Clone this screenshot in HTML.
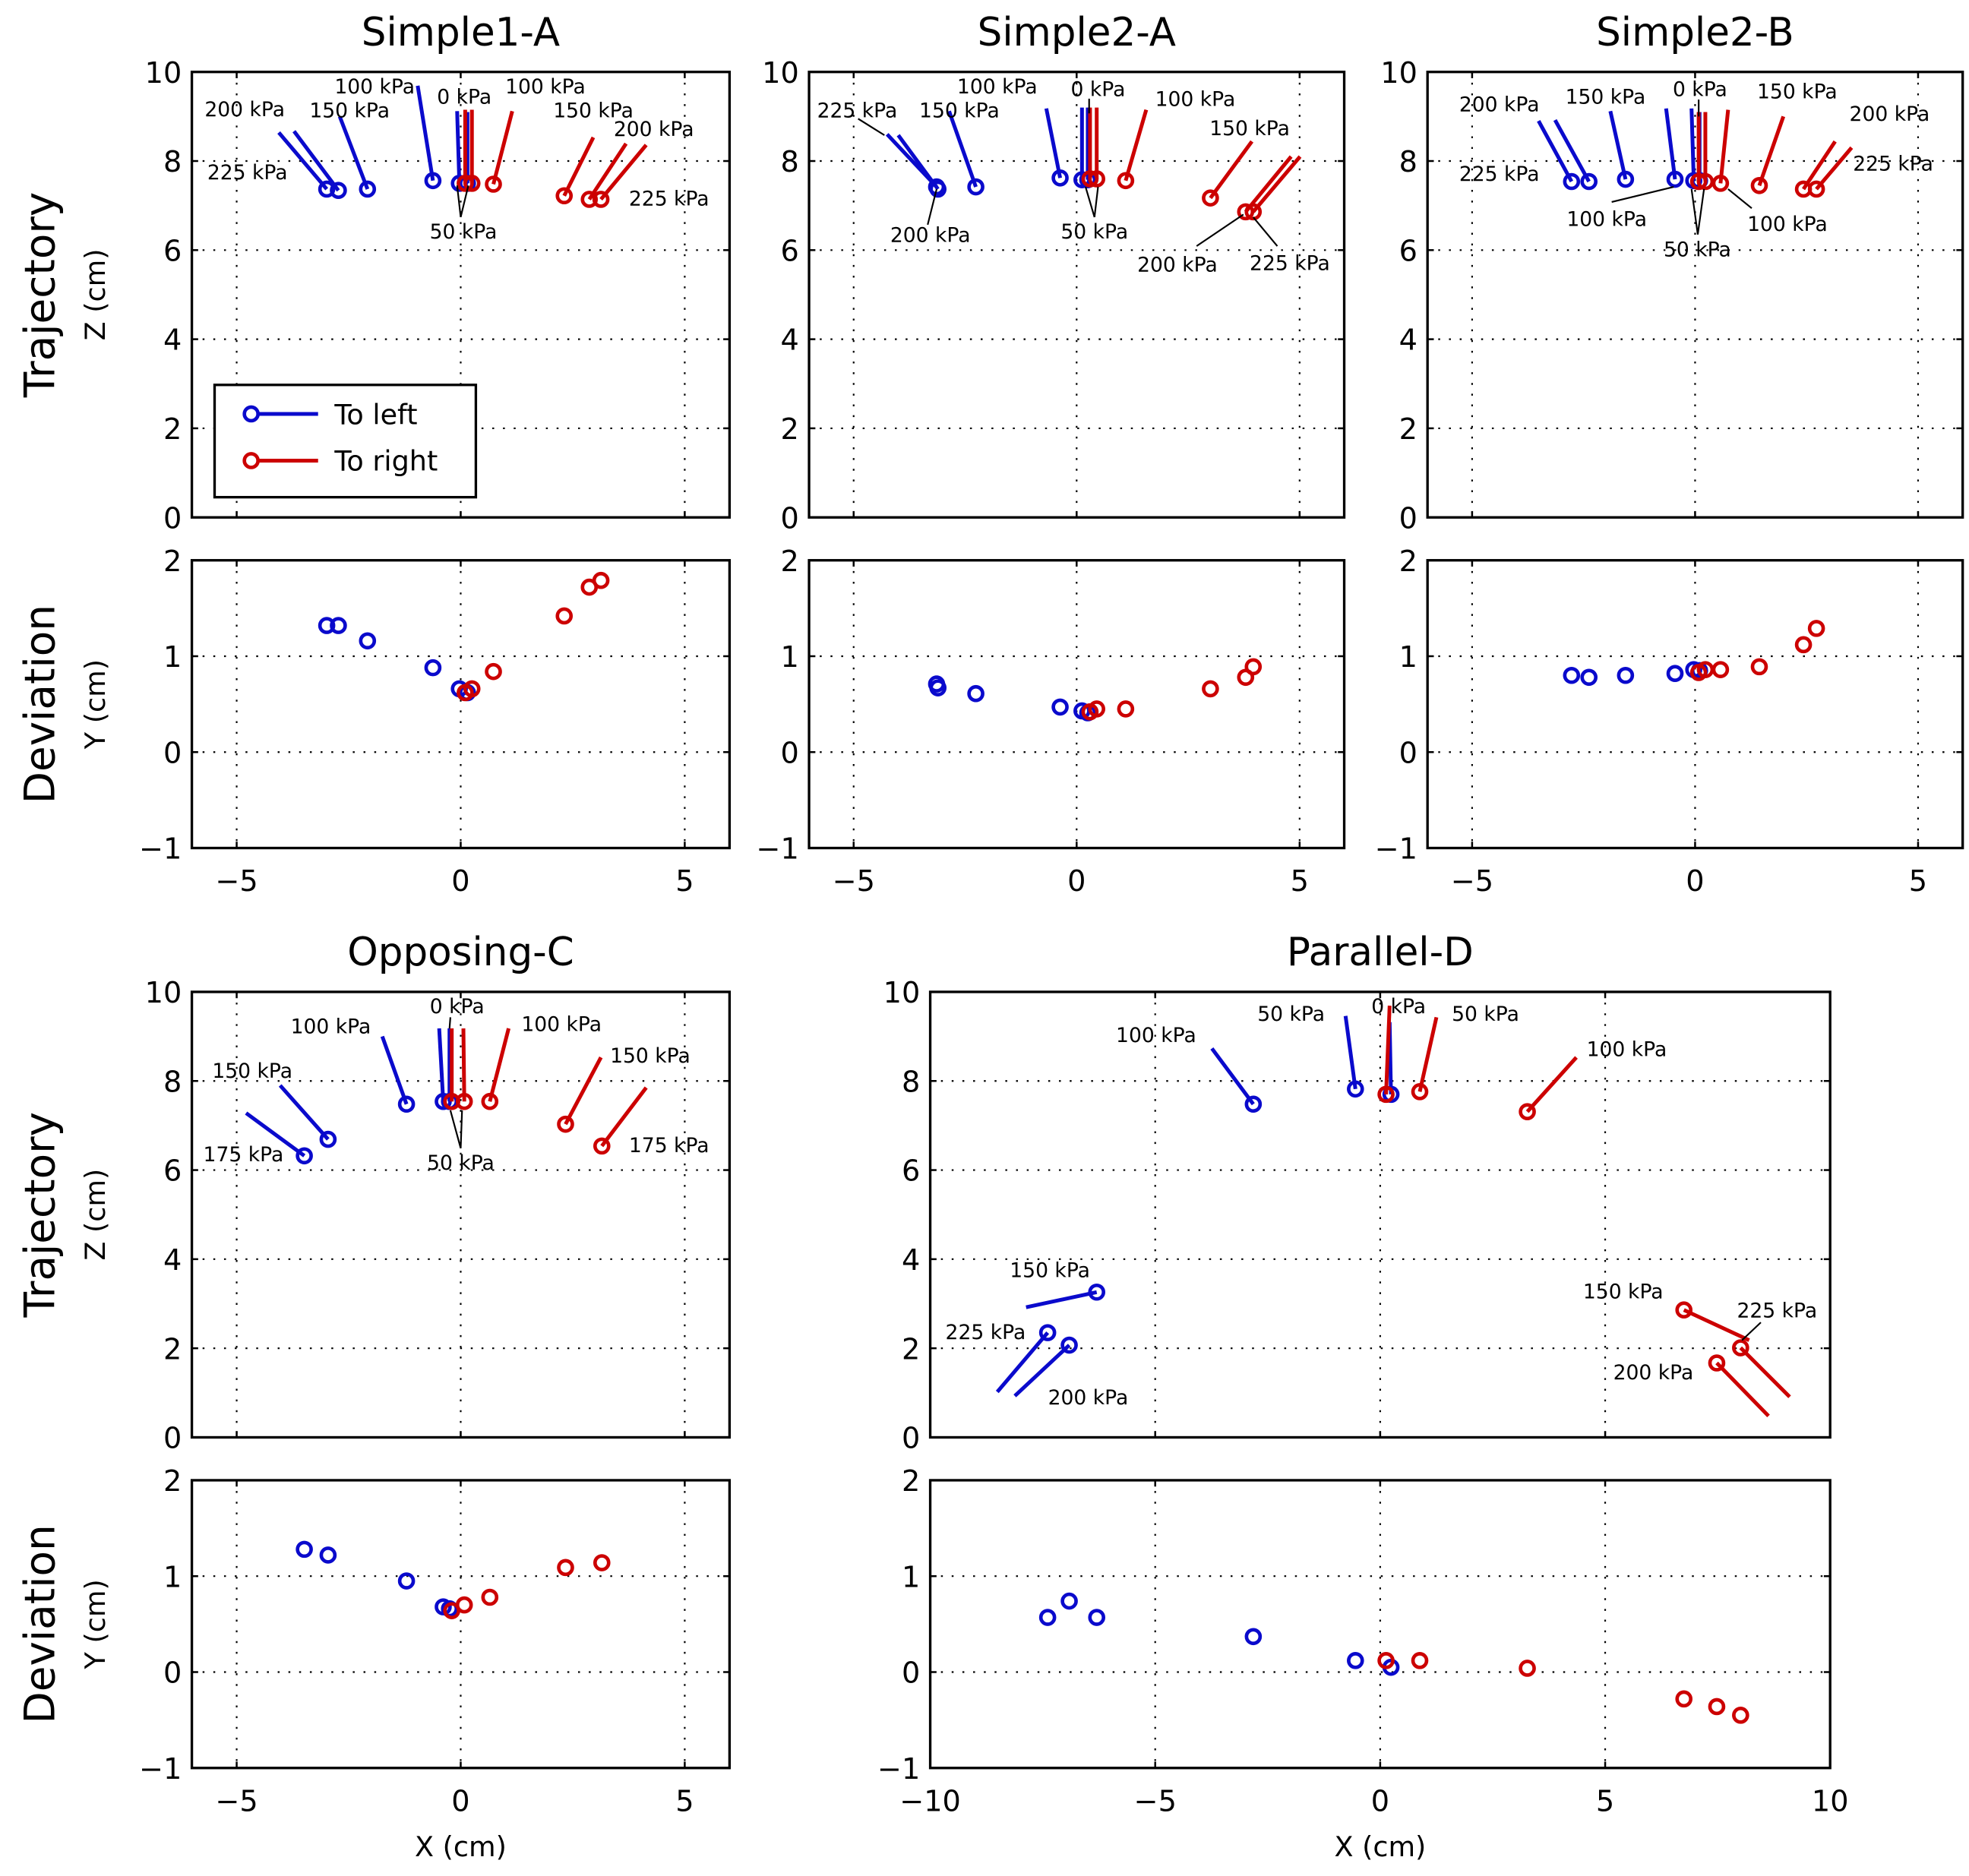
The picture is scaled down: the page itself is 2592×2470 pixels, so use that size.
<!DOCTYPE html>
<html><head><meta charset="utf-8"><title>Trajectory and deviation</title>
<style>
html,body{margin:0;padding:0;background:#fff;}
svg{display:block;font-family:"DejaVu Sans","Liberation Sans",sans-serif;}
</style></head>
<body>
<svg id="fig" xmlns="http://www.w3.org/2000/svg" width="2592" height="2470" viewBox="0 0 1560 1486.6"></svg>
<script>
// ===== data (x, z, y, line end x, line end z) =====
// Simple1-A
const s1aLeftLabels=["225","200","150","100","0","50"];
const s1aLeftX=[-2.99,-2.73,-2.08,-0.62,-0.03,0.15];
const s1aLeftZ=[7.37,7.34,7.37,7.56,7.5,7.5];
const s1aLeftY=[1.32,1.32,1.16,0.88,0.66,0.62];
const s1aLeftEndX=[-4.06,-3.72,-2.70,-0.96,-0.08,0.15];
const s1aLeftEndZ=[8.64,8.67,9.0,9.69,9.12,9.1];
const s1aRightLabels=["0","50","100","150","200","225"];
const s1aRightX=[0.1,0.25,0.73,2.31,2.87,3.13];
const s1aRightZ=[7.5,7.5,7.48,7.22,7.14,7.14];
const s1aRightY=[0.62,0.66,0.84,1.42,1.72,1.79];
const s1aRightEndX=[0.1,0.25,1.15,2.96,3.69,4.14];
const s1aRightEndZ=[9.15,9.15,9.12,8.53,8.39,8.36];
const s1aNoteText=["200 kPa","150 kPa","100 kPa","0 kPa","100 kPa","150 kPa","200 kPa","225 kPa","225 kPa","50 kPa"];
const s1aNoteX=[-4.82,-2.48,-1.92,0.08,1.89,2.96,4.31,-4.76,4.65,0.06];
const s1aNoteZ=[9.18,9.15,9.69,9.46,9.69,9.15,8.73,7.76,7.17,6.43];
const s1aLeadX1=[0.0,0.0];const s1aLeadZ1=[6.74,6.74];
const s1aLeadX2=[-0.08,0.17];const s1aLeadZ2=[7.45,7.45];

// Simple2-A
const s2aLeftX=[-3.14,-3.11,-2.26,-0.37,0.12,0.25];
const s2aLeftZ=[7.42,7.37,7.42,7.62,7.58,7.58];
const s2aLeftY=[0.71,0.67,0.61,0.47,0.43,0.41];
const s2aLeftEndX=[-4.25,-4.0,-2.86,-0.68,0.12,0.25];
const s2aLeftEndZ=[8.6,8.58,9.12,9.18,9.2,9.2];
const s2aRightX=[0.3,0.45,1.10,3.0,3.79,3.96];
const s2aRightZ=[7.6,7.6,7.56,7.17,6.86,6.86];
const s2aRightY=[0.42,0.45,0.45,0.66,0.78,0.89];
const s2aRightEndX=[0.3,0.45,1.56,3.93,4.81,5.01];
const s2aRightEndZ=[9.2,9.2,9.15,8.44,8.1,8.1];
const s2aNoteText=["225 kPa","150 kPa","100 kPa","0 kPa","100 kPa","150 kPa","200 kPa","50 kPa","200 kPa","225 kPa"];
const s2aNoteX=[-4.92,-2.63,-1.78,0.48,2.66,3.88,-3.28,0.40,2.26,4.78];
const s2aNoteZ=[9.15,9.15,9.69,9.63,9.41,8.75,6.35,6.43,5.69,5.72];
const s2aLeadX1=[-4.9,0.28,-3.34,0.40,0.40,2.69,4.5];
const s2aLeadZ1=[8.95,9.4,6.57,6.74,6.74,6.09,6.09];
const s2aLeadX2=[-4.31,0.28,-3.14,0.2,0.48,3.74,3.96];
const s2aLeadZ2=[8.58,9.07,7.37,7.42,7.42,6.8,6.74];

// Simple2-B
const s2bLeftX=[-2.77,-2.38,-1.56,-0.45,-0.03,0.1];
const s2bLeftZ=[7.54,7.54,7.59,7.59,7.56,7.56];
const s2bLeftY=[0.80,0.78,0.80,0.82,0.86,0.85];
const s2bLeftEndX=[-3.51,-3.14,-1.90,-0.65,-0.08,0.1];
const s2bLeftEndZ=[8.9,8.92,9.12,9.18,9.18,9.1];
const s2bRightX=[0.08,0.23,0.57,1.44,2.43,2.72];
const s2bRightZ=[7.54,7.54,7.5,7.45,7.37,7.37];
const s2bRightY=[0.83,0.86,0.86,0.89,1.12,1.29];
const s2bRightEndX=[0.08,0.23,0.74,1.98,3.14,3.51];
const s2bRightEndZ=[9.1,9.1,9.15,9.0,8.44,8.3];
const s2bNoteText=["200 kPa","150 kPa","0 kPa","150 kPa","200 kPa","225 kPa","225 kPa","100 kPa","100 kPa","50 kPa"];
const s2bNoteX=[-4.39,-2.01,0.11,2.29,4.36,-4.39,4.44,-1.98,2.07,0.05];
const s2bNoteZ=[9.29,9.46,9.63,9.58,9.07,7.73,7.96,6.71,6.6,6.03];
const s2bLeadX1=[0.08,-1.87,1.27,0.06,0.06];
const s2bLeadZ1=[9.38,7.08,6.94,6.35,6.35];
const s2bLeadX2=[0.08,-0.48,0.74,-0.08,0.2];
const s2bLeadZ2=[9.0,7.42,7.37,7.37,7.37];

// Opposing-C
const ocLeftX=[-3.49,-2.96,-1.21,-0.39,-0.25];
const ocLeftZ=[6.32,6.69,7.48,7.54,7.54];
const ocLeftY=[1.28,1.22,0.95,0.68,0.66];
const ocLeftEndX=[-4.79,-4.03,-1.75,-0.48,-0.25];
const ocLeftEndZ=[7.28,7.9,9.0,9.18,9.18];
const ocRightX=[-0.2,0.08,0.65,2.34,3.15];
const ocRightZ=[7.54,7.54,7.54,7.03,6.54];
const ocRightY=[0.64,0.70,0.78,1.09,1.14];
const ocRightEndX=[-0.2,0.06,1.07,3.13,4.14];
const ocRightEndZ=[9.18,9.18,9.18,8.53,7.85];
const ocNoteText=["100 kPa","0 kPa","100 kPa","150 kPa","150 kPa","175 kPa","175 kPa","50 kPa"];
const ocNoteX=[-2.9,-0.08,2.25,-4.65,4.23,-4.85,4.65,0.0];
const ocNoteZ=[9.24,9.69,9.29,8.24,8.58,6.37,6.57,6.18];
const ocLeadX1=[-0.23,0.0,0.0];
const ocLeadZ1=[9.43,6.49,6.49];
const ocLeadX2=[-0.25,-0.23,0.03];
const ocLeadZ2=[9.18,7.34,7.34];

// Parallel-D
const pdLeftX=[-2.82,-0.55,0.24,-6.30,-7.39,-6.91];
const pdLeftZ=[7.48,7.82,7.7,3.26,2.35,2.07];
const pdLeftY=[0.37,0.12,0.05,0.57,0.57,0.74];
const pdLeftEndX=[-3.74,-0.77,0.21,-7.87,-8.51,-8.12];
const pdLeftEndZ=[8.73,9.46,9.32,2.92,1.02,0.93];
const pdRightX=[0.13,0.88,3.27,6.75,7.48,8.01];
const pdRightZ=[7.7,7.76,7.31,2.86,1.67,2.01];
const pdRightY=[0.12,0.12,0.04,-0.28,-0.36,-0.45];
const pdRightEndX=[0.21,1.25,4.36,8.2,8.63,9.1];
const pdRightEndZ=[9.69,9.43,8.53,2.18,0.48,0.91];
const pdNoteText=["100 kPa","50 kPa","0 kPa","50 kPa","100 kPa","150 kPa","225 kPa","200 kPa","150 kPa","225 kPa","200 kPa"];
const pdNoteX=[-4.98,-1.98,0.41,2.34,5.48,-7.34,-8.77,-6.49,5.40,8.82,6.07];
const pdNoteZ=[9.04,9.52,9.69,9.52,8.73,3.77,2.38,0.91,3.29,2.86,1.47];
const pdLeadX1=[8.46];const pdLeadZ1=[2.58];
const pdLeadX2=[8.04];const pdLeadZ2=[2.18];

const smallTicks=[-5,0,5];
const wideTicks=[-10,-5,0,5,10];
const zTicks=[0,2,4,6,8,10];
const yTicks=[-1,0,1,2];

// ===== layout =====
const panels=[
 {id:'simple1-a',title:'Simple1-A',x0:152,x1:578,ty0:57,ty1:410,dy0:444,dy1:672,xmin:-6,xmax:6,xt:smallTicks,leftLabels:true,xlabel:false,
  L:[s1aLeftX,s1aLeftZ,s1aLeftY,s1aLeftEndX,s1aLeftEndZ],R:[s1aRightX,s1aRightZ,s1aRightY,s1aRightEndX,s1aRightEndZ],
  N:[s1aNoteText,s1aNoteX,s1aNoteZ],D:[s1aLeadX1,s1aLeadZ1,s1aLeadX2,s1aLeadZ2],legend:true},
 {id:'simple2-a',title:'Simple2-A',x0:641,x1:1065,ty0:57,ty1:410,dy0:444,dy1:672,xmin:-6,xmax:6,xt:smallTicks,leftLabels:false,xlabel:false,
  L:[s2aLeftX,s2aLeftZ,s2aLeftY,s2aLeftEndX,s2aLeftEndZ],R:[s2aRightX,s2aRightZ,s2aRightY,s2aRightEndX,s2aRightEndZ],
  N:[s2aNoteText,s2aNoteX,s2aNoteZ],D:[s2aLeadX1,s2aLeadZ1,s2aLeadX2,s2aLeadZ2]},
 {id:'simple2-b',title:'Simple2-B',x0:1131,x1:1555,ty0:57,ty1:410,dy0:444,dy1:672,xmin:-6,xmax:6,xt:smallTicks,leftLabels:false,xlabel:false,
  L:[s2bLeftX,s2bLeftZ,s2bLeftY,s2bLeftEndX,s2bLeftEndZ],R:[s2bRightX,s2bRightZ,s2bRightY,s2bRightEndX,s2bRightEndZ],
  N:[s2bNoteText,s2bNoteX,s2bNoteZ],D:[s2bLeadX1,s2bLeadZ1,s2bLeadX2,s2bLeadZ2]},
 {id:'opposing-c',title:'Opposing-C',x0:152,x1:578,ty0:786,ty1:1139,dy0:1173,dy1:1401,xmin:-6,xmax:6,xt:smallTicks,leftLabels:true,xlabel:true,
  L:[ocLeftX,ocLeftZ,ocLeftY,ocLeftEndX,ocLeftEndZ],R:[ocRightX,ocRightZ,ocRightY,ocRightEndX,ocRightEndZ],
  N:[ocNoteText,ocNoteX,ocNoteZ],D:[ocLeadX1,ocLeadZ1,ocLeadX2,ocLeadZ2]},
 {id:'parallel-d',title:'Parallel-D',x0:737,x1:1450,ty0:786,ty1:1139,dy0:1173,dy1:1401,xmin:-10,xmax:10,xt:wideTicks,leftLabels:false,xlabel:true,
  L:[pdLeftX,pdLeftZ,pdLeftY,pdLeftEndX,pdLeftEndZ],R:[pdRightX,pdRightZ,pdRightY,pdRightEndX,pdRightEndZ],
  N:[pdNoteText,pdNoteX,pdNoteZ],D:[pdLeadX1,pdLeadZ1,pdLeadX2,pdLeadZ2]}
];
const BLUE='#0a0acc',RED='#cc0000';
const NS='http://www.w3.org/2000/svg';
const svg=document.getElementById('fig');
function mk(tag,attrs,parent){const e=document.createElementNS(NS,tag);for(const k in attrs)e.setAttribute(k,attrs[k]);(parent||svg).appendChild(e);return e;}
function txt(s,x,y,size,anchor,parent,extra){const t=mk('text',Object.assign({x:x,y:y,'font-size':size,'text-anchor':anchor||'middle',fill:'#000'},extra||{}),parent);t.textContent=s;return t;}
function fmt(v){return v<0?'\u2212'+Math.abs(v):String(v);}

panels.forEach(p=>{
 const sx=x=>p.x0+(x-p.xmin)/(p.xmax-p.xmin)*(p.x1-p.x0);
 const sz=z=>p.ty1-z/10*(p.ty1-p.ty0);
 const sy=y=>p.dy1-(y+1)/3*(p.dy1-p.dy0);
 const g=mk('g',{});
 
 
 const title=txt(p.title,(p.x0+p.x1)/2,p.ty0-21,31,'middle',g);
 
 
 [['trajectory',p.ty0,p.ty1,zTicks,sz],['deviation',p.dy0,p.dy1,yTicks,sy]].forEach(([kind,t0,t1,vt,f])=>{
  const ax=mk('g',{},g);
  
  
  p.xt.forEach(v=>{const X=sx(v);
   const gl=mk('line',{x1:X,x2:X,y1:t0,y2:t1,stroke:'#000','stroke-width':1.3,'stroke-dasharray':'1.5 7'},ax);
   
   mk('line',{x1:X,x2:X,y1:t1,y2:t1-5,stroke:'#000','stroke-width':1.5},ax);
   mk('line',{x1:X,x2:X,y1:t0,y2:t0+5,stroke:'#000','stroke-width':1.5},ax);
  });
  vt.forEach(v=>{const Y=f(v);
   const gl=mk('line',{x1:p.x0,x2:p.x1,y1:Y,y2:Y,stroke:'#000','stroke-width':1.3,'stroke-dasharray':'1.5 7'},ax);
   
   mk('line',{x1:p.x0,x2:p.x0+5,y1:Y,y2:Y,stroke:'#000','stroke-width':1.5},ax);
   mk('line',{x1:p.x1,x2:p.x1-5,y1:Y,y2:Y,stroke:'#000','stroke-width':1.5},ax);
   const tl=txt(fmt(v),p.x0-8,Y+8.5,23,'end',ax);
   
  });
  if(kind==='deviation'){
   p.xt.forEach(v=>{const tl=txt(fmt(v),sx(v),t1+34,23,'middle',ax);
    });
  }
 });
 [['left',p.L,BLUE],['right',p.R,RED]].forEach(([side,S,col])=>{
  const [xs,zs,ys,ex,ez]=S;
  const sg=mk('g',{},g);
  
  
  xs.forEach((x,i)=>{
   const ln=mk('line',{x1:sx(x),y1:sz(zs[i]),x2:sx(ex[i]),y2:sz(ez[i]),stroke:col,'stroke-width':3},sg);
   
  });
  xs.forEach((x,i)=>{
   const c=mk('circle',{cx:sx(x),cy:sz(zs[i]),r:5.4,fill:'none',stroke:col,'stroke-width':2.8},sg);
   
   const d=mk('circle',{cx:sx(x),cy:sy(ys[i]),r:5.4,fill:'none',stroke:col,'stroke-width':2.8},sg);
   
  });
 });
 const [lx1,lz1,lx2,lz2]=p.D;
 lx1.forEach((x,i)=>{
  const l=mk('line',{x1:sx(x),y1:sz(lz1[i]),x2:sx(lx2[i]),y2:sz(lz2[i]),stroke:'#000','stroke-width':1.3},g);
  
 });
 const [nt,nx,nz]=p.N;
 nt.forEach((s,i)=>{
  const t=txt(s,sx(nx[i]),sz(nz[i])+6,16,'middle',g);
  
 });
 [[p.ty0,p.ty1],[p.dy0,p.dy1]].forEach(([a,b])=>{
  const r=mk('rect',{x:p.x0,y:a,width:p.x1-p.x0,height:b-a,fill:'none',stroke:'#000','stroke-width':2},g);
  
 });
 if(p.leftLabels){
  const cy1=(p.ty0+p.ty1)/2,cy2=(p.dy0+p.dy1)/2;
  const a=txt('Trajectory',0,0,33,'middle',g,{transform:'translate(43,'+cy1+') rotate(-90)'});
  
  const b=txt('Z (cm)',0,0,22,'middle',g,{transform:'translate(83,'+cy1+') rotate(-90)'});
  
  const c=txt('Deviation',0,0,33,'middle',g,{transform:'translate(43,'+cy2+') rotate(-90)'});
  
  const d=txt('Y (cm)',0,0,22,'middle',g,{transform:'translate(83,'+cy2+') rotate(-90)'});
  
 }
 if(p.xlabel){
  const x=txt('X (cm)',(p.x0+p.x1)/2,p.dy1+70,22,'middle',g);
  
 }
 if(p.legend){
  const lg=mk('g',{},g);
  
  
  mk('rect',{x:170,y:305,width:207,height:89,fill:'#fff',stroke:'#000','stroke-width':2},lg);
  [[BLUE,'To left',328],[RED,'To right',365]].forEach(([col,s,y])=>{
   const e=mk('g',{},lg);
   
   
   mk('line',{x1:199,x2:252,y1:y,y2:y,stroke:col,'stroke-width':3},e);
   mk('circle',{cx:199,cy:y,r:5.4,fill:'#fff',stroke:col,'stroke-width':2.8},e);
   txt(s,265,y+8,22,'start',e);
  });
 }
});
</script>
</body></html>
